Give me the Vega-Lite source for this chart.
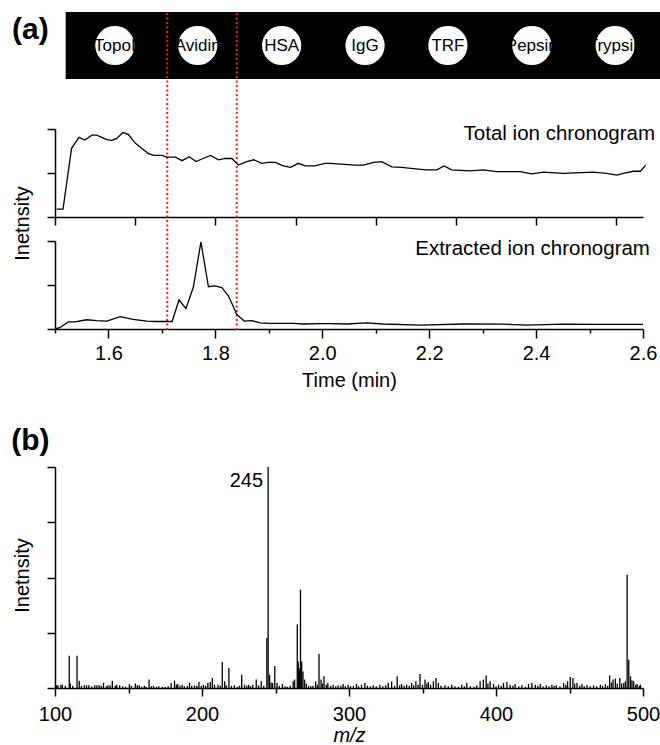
{
"$schema": "https://vega.github.io/schema/vega-lite/v6.json",
"width": 588, "height": 676,
"autosize": {"type": "none"},
"padding": {"left": 55, "top": 12, "right": 17, "bottom": 57},
"background": "white",
"config": {
  "view": {"stroke": null},
  "axis": {"grid": false, "domainColor": "black", "tickColor": "black", "domainWidth": 1.5, "tickWidth": 1.5,
    "labelFont": "Liberation Sans", "labelFontSize": 20, "labelColor": "black",
    "titleFont": "Liberation Sans", "titleFontSize": 20, "titleFontWeight": "normal", "titleColor": "black"},
  "text": {"font": "Liberation Sans", "color": "black"}
},
"datasets": {
  "proteins": [
    {"protein": "TopoI", "t": 1.612}, {"protein": "Avidin", "t": 1.767}, {"protein": "HSA", "t": 1.924},
    {"protein": "IgG", "t": 2.080}, {"protein": "TRF", "t": 2.235}, {"protein": "Pepsin", "t": 2.392},
    {"protein": "Trypsin", "t": 2.548}
  ],
  "cuts": [{"t": 1.71}, {"t": 1.84}],
  "tic": [
    {"t":1.503,"v":0.09},{"t":1.515,"v":0.09},{"t":1.531,"v":0.78},{"t":1.545,"v":0.905},{"t":1.556,"v":0.875},
    {"t":1.569,"v":0.93},{"t":1.578,"v":0.93},{"t":1.597,"v":0.88},{"t":1.606,"v":0.87},{"t":1.615,"v":0.89},
    {"t":1.627,"v":0.96},{"t":1.637,"v":0.94},{"t":1.650,"v":0.84},{"t":1.662,"v":0.78},{"t":1.675,"v":0.72},
    {"t":1.685,"v":0.70},{"t":1.700,"v":0.70},{"t":1.709,"v":0.68},{"t":1.725,"v":0.68},{"t":1.738,"v":0.64},
    {"t":1.751,"v":0.685},{"t":1.764,"v":0.63},{"t":1.777,"v":0.665},{"t":1.791,"v":0.70},{"t":1.806,"v":0.65},
    {"t":1.818,"v":0.665},{"t":1.831,"v":0.665},{"t":1.843,"v":0.59},{"t":1.859,"v":0.63},{"t":1.872,"v":0.65},
    {"t":1.887,"v":0.61},{"t":1.899,"v":0.62},{"t":1.912,"v":0.62},{"t":1.927,"v":0.58},{"t":1.941,"v":0.565},
    {"t":1.955,"v":0.61},{"t":1.968,"v":0.58},{"t":1.986,"v":0.58},{"t":2.005,"v":0.61},{"t":2.015,"v":0.61},
    {"t":2.061,"v":0.59},{"t":2.077,"v":0.59},{"t":2.096,"v":0.62},{"t":2.111,"v":0.63},{"t":2.130,"v":0.57},
    {"t":2.149,"v":0.565},{"t":2.170,"v":0.55},{"t":2.195,"v":0.535},{"t":2.214,"v":0.535},{"t":2.228,"v":0.58},
    {"t":2.242,"v":0.535},{"t":2.276,"v":0.525},{"t":2.301,"v":0.535},{"t":2.326,"v":0.515},{"t":2.370,"v":0.515},
    {"t":2.392,"v":0.49},{"t":2.414,"v":0.51},{"t":2.451,"v":0.495},{"t":2.507,"v":0.51},{"t":2.532,"v":0.495},
    {"t":2.551,"v":0.475},{"t":2.563,"v":0.495},{"t":2.582,"v":0.52},{"t":2.595,"v":0.52},{"t":2.605,"v":0.59}
  ],
  "eic": [
    {"t":1.500,"v":0},{"t":1.509,"v":0.015},{"t":1.525,"v":0.08},{"t":1.537,"v":0.08},{"t":1.559,"v":0.105},
    {"t":1.578,"v":0.095},{"t":1.597,"v":0.09},{"t":1.622,"v":0.14},{"t":1.646,"v":0.11},{"t":1.672,"v":0.09},
    {"t":1.690,"v":0.085},{"t":1.709,"v":0.085},{"t":1.719,"v":0.085},{"t":1.732,"v":0.33},{"t":1.745,"v":0.23},
    {"t":1.759,"v":0.48},{"t":1.773,"v":0.99},{"t":1.787,"v":0.48},{"t":1.799,"v":0.49},{"t":1.812,"v":0.47},
    {"t":1.824,"v":0.38},{"t":1.831,"v":0.29},{"t":1.840,"v":0.165},{"t":1.854,"v":0.09},{"t":1.868,"v":0.095},
    {"t":1.884,"v":0.07},{"t":1.902,"v":0.065},{"t":1.946,"v":0.065},{"t":1.965,"v":0.057},{"t":1.996,"v":0.06},
    {"t":2.014,"v":0.06},{"t":2.046,"v":0.057},{"t":2.083,"v":0.07},{"t":2.114,"v":0.057},{"t":2.183,"v":0.045},
    {"t":2.264,"v":0.057},{"t":2.339,"v":0.055},{"t":2.382,"v":0.045},{"t":2.451,"v":0.055},{"t":2.513,"v":0.052},
    {"t":2.600,"v":0.052}
  ],
  "spec": [
    {"mz":101,"i":0.012},{"mz":102,"i":0.012},{"mz":104,"i":0.015},{"mz":105,"i":0.015},{"mz":107,"i":0.01},
    {"mz":109.7,"i":0.146},{"mz":110.4,"i":0.02},{"mz":112,"i":0.01},{"mz":115,"i":0.146},{"mz":116.5,"i":0.033},
    {"mz":118,"i":0.01},{"mz":120,"i":0.013},{"mz":121.5,"i":0.012},{"mz":123,"i":0.013},{"mz":125,"i":0.008},
    {"mz":127,"i":0.012},{"mz":128.5,"i":0.012},{"mz":130,"i":0.012},{"mz":131.5,"i":0.01},{"mz":133,"i":0.023},
    {"mz":135,"i":0.008},{"mz":136,"i":0.012},{"mz":137.5,"i":0.012},{"mz":139,"i":0.033},{"mz":141,"i":0.01},
    {"mz":142,"i":0.015},{"mz":144,"i":0.012},{"mz":146,"i":0.008},{"mz":148,"i":0.006},{"mz":150.6,"i":0.018},
    {"mz":152,"i":0.01},{"mz":154.7,"i":0.021},{"mz":156,"i":0.012},{"mz":157.4,"i":0.012},{"mz":159,"i":0.006},
    {"mz":160.8,"i":0.01},{"mz":162,"i":0.006},{"mz":164,"i":0.038},{"mz":165.5,"i":0.008},{"mz":167,"i":0.01},
    {"mz":169,"i":0.006},{"mz":170.6,"i":0.008},{"mz":173,"i":0.006},{"mz":175,"i":0.005},{"mz":177,"i":0.008},
    {"mz":179,"i":0.023},{"mz":181.3,"i":0.033},{"mz":182.5,"i":0.015},{"mz":183.5,"i":0.018},{"mz":185,"i":0.01},
    {"mz":186.5,"i":0.015},{"mz":188,"i":0.008},{"mz":190,"i":0.01},{"mz":191.5,"i":0.023},{"mz":193,"i":0.01},
    {"mz":194.9,"i":0.012},{"mz":196.5,"i":0.01},{"mz":197.9,"i":0.027},{"mz":199.5,"i":0.01},{"mz":201,"i":0.015},
    {"mz":202.5,"i":0.01},{"mz":204,"i":0.023},{"mz":205.6,"i":0.027},{"mz":207,"i":0.045},{"mz":208.5,"i":0.015},
    {"mz":210.9,"i":0.015},{"mz":212.5,"i":0.01},{"mz":213.8,"i":0.118},{"mz":215.4,"i":0.03},{"mz":216.5,"i":0.012},
    {"mz":218.3,"i":0.09},{"mz":220,"i":0.01},{"mz":222,"i":0.012},{"mz":224,"i":0.006},{"mz":225.5,"i":0.01},
    {"mz":227,"i":0.06},{"mz":228.9,"i":0.015},{"mz":230.5,"i":0.01},{"mz":231.8,"i":0.015},{"mz":233,"i":0.008},
    {"mz":234.5,"i":0.015},{"mz":236.9,"i":0.038},{"mz":238.5,"i":0.012},{"mz":240.3,"i":0.03},{"mz":242,"i":0.01},
    {"mz":244.1,"i":0.226},{"mz":245,"i":1.0},{"mz":246,"i":0.06},{"mz":247,"i":0.025},{"mz":248,"i":0.023},
    {"mz":249.5,"i":0.10},{"mz":251,"i":0.023},{"mz":252.5,"i":0.01},{"mz":254.7,"i":0.018},{"mz":256.5,"i":0.008},
    {"mz":258,"i":0.006},{"mz":260,"i":0.01},{"mz":262,"i":0.03},{"mz":263,"i":0.038},{"mz":264.8,"i":0.287},
    {"mz":265.5,"i":0.12},{"mz":266,"i":0.09},{"mz":266.5,"i":0.08},{"mz":267,"i":0.445},{"mz":267.8,"i":0.12},
    {"mz":268.7,"i":0.075},{"mz":269.8,"i":0.038},{"mz":271,"i":0.02},{"mz":272.5,"i":0.01},{"mz":274,"i":0.008},
    {"mz":275.5,"i":0.01},{"mz":277.3,"i":0.03},{"mz":278.5,"i":0.015},{"mz":279.6,"i":0.155},{"mz":281,"i":0.038},
    {"mz":282,"i":0.02},{"mz":283,"i":0.053},{"mz":284.5,"i":0.015},{"mz":285.6,"i":0.023},{"mz":287.5,"i":0.01},
    {"mz":289.2,"i":0.015},{"mz":291,"i":0.008},{"mz":292.6,"i":0.012},{"mz":294.5,"i":0.01},{"mz":296,"i":0.018},
    {"mz":297.5,"i":0.008},{"mz":299.4,"i":0.015},{"mz":301,"i":0.008},{"mz":303,"i":0.01},{"mz":305.1,"i":0.018},
    {"mz":306.5,"i":0.008},{"mz":308.5,"i":0.015},{"mz":310.8,"i":0.023},{"mz":312.5,"i":0.01},{"mz":314.5,"i":0.008},
    {"mz":316.5,"i":0.012},{"mz":318.5,"i":0.008},{"mz":321,"i":0.015},{"mz":323,"i":0.008},{"mz":325,"i":0.012},
    {"mz":326.7,"i":0.023},{"mz":329,"i":0.03},{"mz":331,"i":0.01},{"mz":332.8,"i":0.053},{"mz":334.5,"i":0.012},
    {"mz":335.8,"i":0.018},{"mz":337.5,"i":0.01},{"mz":339.2,"i":0.015},{"mz":341,"i":0.01},{"mz":342.6,"i":0.023},
    {"mz":344,"i":0.012},{"mz":345.5,"i":0.03},{"mz":347,"i":0.015},{"mz":348.3,"i":0.063},{"mz":350,"i":0.015},
    {"mz":351.7,"i":0.038},{"mz":353,"i":0.02},{"mz":354,"i":0.027},{"mz":355.5,"i":0.015},{"mz":357.4,"i":0.03},
    {"mz":359.2,"i":0.045},{"mz":360.8,"i":0.023},{"mz":362.5,"i":0.01},{"mz":365.3,"i":0.012},{"mz":367.5,"i":0.008},
    {"mz":369.9,"i":0.015},{"mz":372,"i":0.008},{"mz":374.5,"i":0.006},{"mz":376.7,"i":0.015},{"mz":378.5,"i":0.008},
    {"mz":380.1,"i":0.023},{"mz":382.5,"i":0.008},{"mz":385,"i":0.006},{"mz":386.9,"i":0.012},{"mz":389.2,"i":0.03},
    {"mz":391.4,"i":0.038},{"mz":393.3,"i":0.057},{"mz":394.5,"i":0.02},{"mz":396,"i":0.03},{"mz":398.3,"i":0.018},
    {"mz":400,"i":0.008},{"mz":401.7,"i":0.015},{"mz":403.5,"i":0.01},{"mz":405.1,"i":0.023},{"mz":407.4,"i":0.027},
    {"mz":409.6,"i":0.015},{"mz":411.5,"i":0.01},{"mz":413,"i":0.018},{"mz":415.5,"i":0.008},{"mz":417.6,"i":0.012},
    {"mz":420,"i":0.006},{"mz":422.1,"i":0.018},{"mz":424.4,"i":0.023},{"mz":426.7,"i":0.015},{"mz":428.5,"i":0.01},
    {"mz":430.1,"i":0.018},{"mz":432,"i":0.008},{"mz":434.2,"i":0.012},{"mz":436,"i":0.008},{"mz":438,"i":0.015},
    {"mz":439.5,"i":0.01},{"mz":441,"i":0.012},{"mz":443.5,"i":0.008},{"mz":446,"i":0.023},{"mz":447.5,"i":0.015},
    {"mz":448.7,"i":0.03},{"mz":450.5,"i":0.05},{"mz":452.3,"i":0.045},{"mz":453.5,"i":0.02},{"mz":455.1,"i":0.023},
    {"mz":457,"i":0.01},{"mz":458.5,"i":0.018},{"mz":460,"i":0.008},{"mz":461.9,"i":0.015},{"mz":464,"i":0.008},
    {"mz":466.4,"i":0.012},{"mz":468.5,"i":0.008},{"mz":471,"i":0.015},{"mz":472.5,"i":0.01},{"mz":474.4,"i":0.018},
    {"mz":476,"i":0.01},{"mz":477.3,"i":0.057},{"mz":478.5,"i":0.025},{"mz":479.6,"i":0.038},{"mz":481.2,"i":0.042},
    {"mz":482.5,"i":0.02},{"mz":484.2,"i":0.045},{"mz":485.5,"i":0.02},{"mz":486.9,"i":0.023},{"mz":488,"i":0.03},
    {"mz":489.2,"i":0.513},{"mz":490.3,"i":0.128},{"mz":491.5,"i":0.053},{"mz":492.5,"i":0.035},{"mz":493.7,"i":0.03},
    {"mz":495,"i":0.015},{"mz":496,"i":0.018},{"mz":497.5,"i":0.01},{"mz":498.3,"i":0.015}
  ]
},
"resolve": {"scale": {"x": "independent", "y": "independent"}, "axis": {"x": "independent", "y": "independent"}},
"layer": [
  {"data": {"values": [{}]}, "mark": {"type": "rect", "color": "black"},
   "encoding": {
     "x": {"datum": 1.52, "type": "quantitative", "scale": {"domain": [1.5, 2.6], "nice": false, "zero": false}, "axis": null},
     "x2": {"datum": 2.632},
     "y": {"datum": 0, "type": "quantitative", "scale": {"domain": [0, 1], "range": [67, 0], "nice": false}, "axis": null},
     "y2": {"datum": 1}}},
  {"data": {"name": "proteins"}, "mark": {"type": "circle", "size": 1540, "color": "white", "opacity": 1},
   "encoding": {
     "x": {"field": "t", "type": "quantitative", "scale": {"domain": [1.5, 2.6], "nice": false, "zero": false}, "axis": null},
     "y": {"datum": 0.5, "type": "quantitative", "scale": {"domain": [0, 1], "range": [67, 0], "nice": false}, "axis": null}}},
  {"data": {"name": "proteins"}, "mark": {"type": "text", "fontSize": 17, "align": "center", "baseline": "middle", "color": "black"},
   "encoding": {
     "text": {"field": "protein"},
     "x": {"field": "t", "type": "quantitative", "scale": {"domain": [1.5, 2.6], "nice": false, "zero": false}, "axis": null},
     "y": {"datum": 0.5, "type": "quantitative", "scale": {"domain": [0, 1], "range": [67, 0], "nice": false}, "axis": null}}},
  {"data": {"name": "cuts"}, "mark": {"type": "rule", "color": "#ff1a1a", "strokeWidth": 2, "strokeDash": [2, 2.5]},
   "encoding": {
     "x": {"field": "t", "type": "quantitative", "scale": {"domain": [1.5, 2.6], "nice": false, "zero": false},
       "axis": {"orient": "bottom", "offset": -359, "values": [1.5, 1.7, 1.9, 2.1, 2.3, 2.5], "tickSize": 4, "labels": false, "domain": false, "title": null}},
     "y": {"datum": 0, "type": "quantitative", "scale": {"domain": [0, 1], "range": [318, 0], "nice": false}, "axis": null},
     "y2": {"datum": 1}}},
  {"data": {"name": "tic"}, "mark": {"type": "line", "color": "black", "strokeWidth": 1.3},
   "encoding": {
     "x": {"field": "t", "type": "quantitative", "scale": {"domain": [1.5, 2.6], "nice": false, "zero": false},
       "axis": {"orient": "bottom", "offset": -471, "values": [1.5, 1.65, 1.8, 1.95, 2.1, 2.25, 2.4, 2.55], "tickSize": 8, "labels": false, "title": null}},
     "y": {"field": "v", "type": "quantitative", "scale": {"domain": [0, 1], "range": [205, 117], "nice": false},
       "axis": {"orient": "left", "values": [0, 0.5, 1], "tickSize": 8, "labels": false, "title": null}}}},
  {"data": {"values": [{}]}, "mark": {"type": "text", "text": "Total ion chronogram", "align": "right", "baseline": "alphabetic", "fontSize": 20.5},
   "encoding": {
     "x": {"datum": 2.6225, "type": "quantitative", "scale": {"domain": [1.5, 2.6], "nice": false, "zero": false}, "axis": null},
     "y": {"datum": 0.875, "type": "quantitative", "scale": {"domain": [0, 1], "range": [205, 117], "nice": false}, "axis": null}}},
  {"data": {"name": "eic"}, "mark": {"type": "line", "color": "black", "strokeWidth": 1.3},
   "encoding": {
     "x": {"field": "t", "type": "quantitative", "scale": {"domain": [1.5, 2.6], "nice": false, "zero": false},
       "axis": {"orient": "bottom", "offset": -359, "values": [1.6, 1.8, 2.0, 2.2, 2.4, 2.6], "format": ".1f", "tickSize": 9, "labelPadding": 5, "labelFlush": false,
         "title": "Time (min)", "titleY": 57, "titleBaseline": "alphabetic"}},
     "y": {"field": "v", "type": "quantitative", "scale": {"domain": [0, 1], "range": [317, 229], "nice": false},
       "axis": {"orient": "left", "values": [0, 0.5, 1], "tickSize": 8, "labels": false, "title": "Inetnsity", "titleX": -27, "titleY": 211, "titleBaseline": "alphabetic", "titleAngle": 270}}}},
  {"data": {"values": [{}]}, "mark": {"type": "text", "text": "Extracted ion chronogram", "align": "right", "baseline": "alphabetic", "fontSize": 20.5},
   "encoding": {
     "x": {"datum": 2.613, "type": "quantitative", "scale": {"domain": [1.5, 2.6], "nice": false, "zero": false}, "axis": null},
     "y": {"datum": 0.84, "type": "quantitative", "scale": {"domain": [0, 1], "range": [317, 229], "nice": false}, "axis": null}}},
  {"data": {"values": [{}]}, "mark": {"type": "text", "text": "(a)", "align": "left", "baseline": "middle", "fontSize": 30, "fontWeight": "bold"},
   "encoding": {
     "x": {"datum": 1.4196, "type": "quantitative", "scale": {"domain": [1.5, 2.6], "nice": false, "zero": false}, "axis": null},
     "y": {"datum": 0.731, "type": "quantitative", "scale": {"domain": [0, 1], "range": [67, 0], "nice": false}, "axis": null}}},
  {"data": {"name": "spec"}, "mark": {"type": "rule", "color": "black", "strokeWidth": 1.3},
   "encoding": {
     "x": {"field": "mz", "type": "quantitative", "scale": {"domain": [100, 500], "nice": false, "zero": false},
       "axis": {"orient": "bottom", "values": [100, 200, 300, 400, 500], "tickSize": 8, "labelPadding": 8, "labelFlush": false,
         "title": "m/z", "titleFontStyle": "italic", "titleY": 53, "titleBaseline": "alphabetic"}},
     "y": {"field": "i", "type": "quantitative", "scale": {"domain": [0, 1], "range": [676, 455], "nice": false},
       "axis": {"orient": "left", "values": [0, 0.25, 0.5, 0.75, 1], "tickSize": 8, "labels": false, "title": "Inetnsity", "titleX": -27, "titleY": 563, "titleBaseline": "alphabetic", "titleAngle": 270}},
     "y2": {"datum": 0}}},
  {"data": {"values": [{}]}, "mark": {"type": "text", "text": "245", "align": "right", "baseline": "alphabetic", "fontSize": 20},
   "encoding": {
     "x": {"datum": 241.5, "type": "quantitative", "scale": {"domain": [100, 500], "nice": false, "zero": false},
       "axis": {"orient": "bottom", "values": [150, 250, 350, 450], "tickSize": 5, "labels": false, "domain": false, "title": null}},
     "y": {"datum": 0.91, "type": "quantitative", "scale": {"domain": [0, 1], "range": [676, 455], "nice": false}, "axis": null}}},
  {"data": {"values": [{}]}, "mark": {"type": "text", "text": "(b)", "align": "left", "baseline": "middle", "fontSize": 30, "fontWeight": "bold"},
   "encoding": {
     "x": {"datum": 70.2, "type": "quantitative", "scale": {"domain": [100, 500], "nice": false, "zero": false}, "axis": null},
     "y": {"datum": 1.1176, "type": "quantitative", "scale": {"domain": [0, 1], "range": [676, 455], "nice": false}, "axis": null}}}
]
}
